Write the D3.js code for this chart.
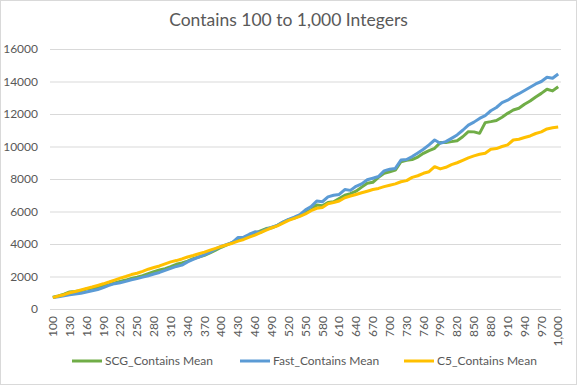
<!DOCTYPE html>
<html>
<head>
<meta charset="utf-8">
<script src="https://cdn.jsdelivr.net/npm/d3@7"></script>
<style>
  body { margin: 0; background: #fff; }
  text { font-family: Lato, "Open Sans", sans-serif; }
</style>
</head>
<body>
<div id="chart"></div>
<script>
const width = 577;
const height = 385;

// x categories: 100 .. 1000 in steps of 10
const categories = d3.range(100, 1001, 10);

const scgMean = [
  720, 800, 920, 1050, 1080, 1120, 1230, 1280, 1330, 1420,
  1500, 1600, 1700, 1780, 1880, 1960, 2050, 2180, 2300, 2400,
  2480, 2600, 2750, 2830, 2950, 3100, 3200, 3300, 3450, 3620,
  3800, 3950, 4100, 4250, 4350, 4480, 4650, 4800, 4950, 5000,
  5150, 5350, 5500, 5600, 5750, 5930, 6100, 6400, 6350, 6550,
  6600, 6800, 7000, 7100, 7250, 7500, 7740, 7800, 8100, 8350,
  8450, 8550, 9060, 9150, 9200, 9350, 9580, 9750, 9890, 10240,
  10250, 10300, 10360, 10600, 10910, 10900, 10810, 11470, 11530, 11600,
  11800, 12040, 12250, 12350, 12600, 12800, 13050, 13270, 13520, 13420,
  13680
];

const fastMean = [
  700, 750, 820, 880, 920, 970, 1050, 1120, 1200, 1320,
  1450, 1560, 1620, 1700, 1800, 1870, 1960, 2050, 2150, 2250,
  2380, 2500, 2620, 2700, 2900, 3050, 3200, 3330, 3500, 3700,
  3850, 3980, 4100, 4400, 4420, 4600, 4750, 4720, 4900, 5030,
  5150, 5350, 5520, 5650, 5800, 6100, 6300, 6650, 6600, 6900,
  7000, 7050, 7350, 7300, 7550, 7700, 7950, 8050, 8150, 8500,
  8600, 8650, 9170, 9200, 9380, 9600, 9830, 10100, 10400, 10200,
  10300, 10500, 10710, 11000, 11320, 11500, 11730, 11900, 12200, 12400,
  12700, 12850, 13070, 13250, 13450, 13650, 13850, 14000, 14260, 14200,
  14460
];

const c5Mean = [
  700, 800, 880, 1000, 1080, 1170, 1260, 1350, 1450, 1550,
  1660, 1780, 1900, 2000, 2120, 2200, 2320, 2450, 2550, 2650,
  2780, 2900, 2980, 3080, 3200, 3290, 3400, 3500, 3620, 3730,
  3850, 3950, 4050, 4180, 4280, 4420, 4550, 4700, 4850, 5000,
  5120, 5280, 5450, 5580, 5700, 5850, 6050, 6200, 6250, 6480,
  6550, 6650, 6850, 6950, 7050, 7150, 7250, 7350, 7420, 7530,
  7620, 7700, 7830, 7900, 8100, 8200, 8350, 8450, 8760, 8620,
  8720, 8880, 9000, 9150, 9300, 9420, 9520, 9580, 9830, 9870,
  10000, 10100, 10400, 10450, 10550, 10650, 10800, 10900, 11080, 11150,
  11200
];

const yTicks = [0, 2000, 4000, 6000, 8000, 10000, 12000, 14000, 16000];

const series = [
  { name: "SCG_Contains Mean", values: scgMean, color: "#70AD47" },
  { name: "Fast_Contains Mean", values: fastMean, color: "#5B9BD5" },
  { name: "C5_Contains Mean", values: c5Mean, color: "#FFC000" }
];

const margin = { left: 50, right: 16, top: 49, bottom: 76 };

const svg = d3.select("#chart")
  .append("svg")
  .attr("width", width)
  .attr("height", height);

// chart frame
svg.append("rect")
  .attr("x", 0.5).attr("y", 0.5)
  .attr("width", width - 1).attr("height", height - 1)
  .attr("fill", "#fff")
  .attr("stroke", "#d9d9d9");

svg.append("text")
  .attr("x", width / 2)
  .attr("y", 26)
  .attr("text-anchor", "middle")
  .attr("fill", "#595959")
  .attr("font-size", 17.5)
  .text("Contains 100 to 1,000 Integers");

const x = d3.scaleBand()
  .domain(categories)
  .range([margin.left, width - margin.right]);

const y = d3.scaleLinear()
  .domain([0, 16000])
  .range([height - margin.bottom, margin.top]);

// gridlines + y labels
const yAxis = svg.append("g")
  .attr("transform", `translate(${margin.left},0)`)
  .call(d3.axisLeft(y)
    .tickValues(yTicks)
    .tickSize(-(width - margin.left - margin.right))
    .tickPadding(12)
    .tickFormat(d3.format("d")));
yAxis.select(".domain").remove();
yAxis.selectAll("line").attr("stroke", "#d9d9d9");
yAxis.selectAll("text")
  .attr("fill", "#595959")
  .attr("font-size", 12)
  .attr("font-family", "Lato, 'Open Sans', sans-serif");

// category labels, every third one, rotated
const xAxis = svg.append("g")
  .attr("transform", `translate(0,${height - margin.bottom})`)
  .call(d3.axisBottom(x)
    .tickValues(categories.filter((d, i) => i % 3 === 0 || d === 1000))
    .tickSize(0)
    .tickFormat(d3.format(",")));
xAxis.select(".domain").remove();
xAxis.selectAll("text")
  .attr("fill", "#595959")
  .attr("font-size", 12)
  .attr("font-family", "Lato, 'Open Sans', sans-serif")
  .attr("text-anchor", "end")
  .attr("transform", "rotate(-90)")
  .attr("x", -7)
  .attr("y", 0)
  .attr("dy", "0.35em");

const line = d3.line()
  .x((d, i) => x(categories[i]) + x.bandwidth() / 2)
  .y((d) => y(d));

svg.selectAll("path.series")
  .data(series)
  .join("path")
  .attr("class", "series")
  .attr("fill", "none")
  .attr("stroke", (d) => d.color)
  .attr("stroke-width", 3)
  .attr("stroke-linejoin", "round")
  .attr("d", (d) => line(d.values));

// legend
const legendX = [72, 240, 404];
const legend = svg.selectAll("g.legend")
  .data(series)
  .join("g")
  .attr("class", "legend")
  .attr("transform", (d, i) => `translate(${legendX[i]},361)`);
legend.append("line")
  .attr("x1", 0).attr("x2", 30)
  .attr("stroke", (d) => d.color)
  .attr("stroke-width", 3);
legend.append("text")
  .attr("x", 33)
  .attr("dy", "0.35em")
  .attr("fill", "#595959")
  .attr("font-size", 12)
  .text((d) => d.name);
</script>
</body>
</html>
